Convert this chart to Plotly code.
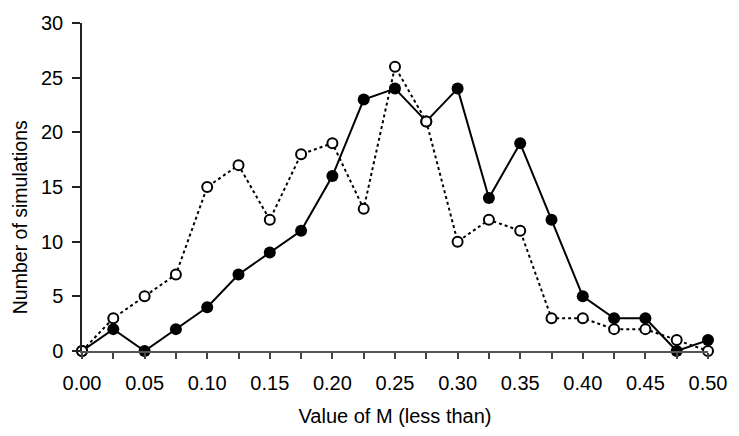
import plotly.graph_objects as go

m_values = [0.0, 0.025, 0.05, 0.075, 0.1, 0.125, 0.15, 0.175, 0.2, 0.225, 0.25,
            0.275, 0.3, 0.325, 0.35, 0.375, 0.4, 0.425, 0.45, 0.475, 0.5]
filled_counts = [0, 2, 0, 2, 4, 7, 9, 11, 16, 23, 24, 21, 24, 14, 19, 12, 5, 3, 3, 0, 1]
open_counts = [0, 3, 5, 7, 15, 17, 12, 18, 19, 13, 26, 21, 10, 12, 11, 3, 3, 2, 2, 1, 0]
x_tick_vals = [0.0, 0.05, 0.1, 0.15, 0.2, 0.25, 0.3, 0.35, 0.4, 0.45, 0.5]
x_tick_text = ["0.00", "0.05", "0.10", "0.15", "0.20", "0.25", "0.30", "0.35", "0.40", "0.45", "0.50"]
y_tick_vals = [0, 5, 10, 15, 20, 25, 30]

fig = go.Figure()
fig.add_trace(go.Scatter(
    x=m_values, y=filled_counts, mode="lines+markers",
    line=dict(color="black", width=2),
    marker=dict(symbol="circle", size=12, color="black"),
    cliponaxis=False, showlegend=False))
fig.add_trace(go.Scatter(
    x=m_values, y=open_counts, mode="lines+markers",
    line=dict(color="black", width=2, dash="dot"),
    marker=dict(symbol="circle", size=10, color="white", line=dict(color="black", width=2)),
    cliponaxis=False, showlegend=False))

font = "Liberation Sans, Arial, sans-serif"
fig.update_layout(
    width=739, height=436,
    margin=dict(l=82, r=23, t=20, b=82),
    paper_bgcolor="white", plot_bgcolor="white",
    font=dict(family=font, color="black", size=20),
    xaxis=dict(
        range=[0, 0.5], tickvals=x_tick_vals, ticktext=x_tick_text,
        showgrid=False, zeroline=False, showline=True, linecolor="#555", linewidth=1.5,
        ticks="outside", ticklen=6, tickcolor="#444", tickwidth=1.5,
        minor=dict(dtick=0.025, tick0=0, ticks="outside", ticklen=6, tickcolor="#444", tickwidth=1.5, showgrid=False),
        tickfont=dict(size=20), ticklabelstandoff=7,
        title=dict(text="Value of M (less than)", font=dict(size=20), standoff=16),
    ),
    yaxis=dict(
        range=[0, 30], tickvals=y_tick_vals,
        showgrid=False, zeroline=False, showline=True, linecolor="#222", linewidth=1.5,
        ticks="outside", ticklen=8, tickcolor="#222", tickwidth=1.5,
        tickfont=dict(size=20), ticklabelstandoff=5,
    ),
    annotations=[dict(
        text="Number of simulations", textangle=-90, showarrow=False,
        xref="paper", yref="paper", x=-62 / 634, y=(354 - 218) / 334,
        xanchor="center", yanchor="middle", font=dict(size=19.5))],
)
fig.write_html("out.html")
